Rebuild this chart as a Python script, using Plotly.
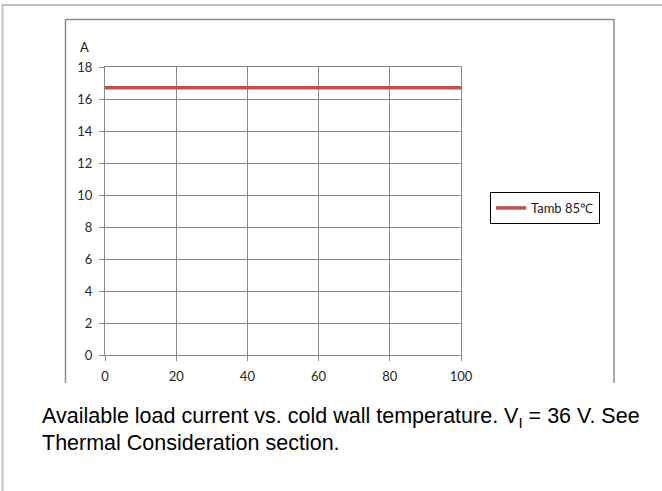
import plotly.graph_objects as go

# ---- data ----
temperature = [0, 100]
load_current = [16.7, 16.7]
series_name = "Tamb 85℃"
x_ticks = [0, 20, 40, 60, 80, 100]
y_ticks = [0, 2, 4, 6, 8, 10, 12, 14, 16, 18]
caption_line1 = "Available load current vs. cold wall temperature. V<sub>I</sub> = 36 V. See"
caption_line2 = "Thermal Consideration section."

W, H = 662, 491
L, R, T, B = 105, 461, 67, 355  # plot area in pixels


def px(xp):
    return (xp - L) / (R - L)


def py(yp):
    return (B - yp) / (B - T)


fig = go.Figure()
fig.add_trace(go.Scatter(
    x=temperature, y=load_current, mode="lines", name=series_name,
    line=dict(color="#c0504d", width=3.5), showlegend=True,
))

grid = "#8a8a8a"
tickfont = dict(family="Lato, 'Open Sans', sans-serif", size=13, color="#262626")
fig.update_layout(
    width=W, height=H,
    margin=dict(l=L, r=W - R, t=T, b=H - B, pad=0),
    paper_bgcolor="white", plot_bgcolor="white",
    font=tickfont,
    showlegend=True,
    legend=dict(
        x=px(490), y=py(192), xanchor="left", yanchor="top",
        bordercolor="black", borderwidth=1, bgcolor="white",
        font=dict(family="Lato, sans-serif", size=13, color="#1a1a1a"),
        itemwidth=30, tracegroupgap=0,
    ),
    xaxis=dict(
        range=[0, 100], tickvals=x_ticks, ticktext=[str(v) for v in x_ticks],
        showgrid=True, gridcolor=grid, gridwidth=1,
        showline=True, linecolor=grid, linewidth=1, mirror=True,
        ticks="outside", ticklen=5, tickcolor=grid, zeroline=False,
        ticklabelstandoff=4, tickfont=tickfont,
        fixedrange=True,
    ),
    yaxis=dict(
        range=[0, 18], tickvals=y_ticks, ticktext=[str(v) for v in y_ticks],
        showgrid=True, gridcolor=grid, gridwidth=1,
        showline=True, linecolor=grid, linewidth=1, mirror=True,
        ticks="outside", ticklen=5, tickcolor=grid, zeroline=False,
        ticklabelstandoff=4, tickfont=tickfont,
        fixedrange=True,
    ),
)

shapes = [
    # outer frame (top and left)
    dict(type="line", xref="paper", yref="paper", x0=px(2), x1=px(700), y0=py(5), y1=py(5),
         line=dict(color="#c0c0c0", width=2)),
    dict(type="line", xref="paper", yref="paper", x0=px(2.5), x1=px(2.5), y0=py(4), y1=py(520),
         line=dict(color="#c0c0c0", width=2)),
    # inner chart frame (top, left, right)
    dict(type="line", xref="paper", yref="paper", x0=px(65.5), x1=px(614), y0=py(19.5), y1=py(19.5),
         line=dict(color="#8c8c8c", width=1.5)),
    dict(type="line", xref="paper", yref="paper", x0=px(65.5), x1=px(65.5), y0=py(19), y1=py(383),
         line=dict(color="#8c8c8c", width=1.5)),
    dict(type="line", xref="paper", yref="paper", x0=px(614), x1=px(614), y0=py(19), y1=py(383),
         line=dict(color="#8c8c8c", width=1.5)),
]
fig.update_layout(shapes=shapes)

fig.add_annotation(xref="paper", yref="paper", x=px(84), y=py(47), text="A", showarrow=False,
                   xanchor="center", yanchor="middle",
                   font=dict(family="Lato, sans-serif", size=13, color="#1a1a1a"))
fig.add_annotation(xref="paper", yref="paper", x=px(40), y=py(417), text=caption_line1, showarrow=False,
                   xanchor="left", yanchor="middle", align="left",
                   font=dict(family="Liberation Sans, Arial, sans-serif", size=21.5, color="black"))
fig.add_annotation(xref="paper", yref="paper", x=px(40), y=py(443), text=caption_line2, showarrow=False,
                   xanchor="left", yanchor="middle", align="left",
                   font=dict(family="Liberation Sans, Arial, sans-serif", size=21.5, color="black"))

fig.write_html("out.html", config={"displayModeBar": False})
